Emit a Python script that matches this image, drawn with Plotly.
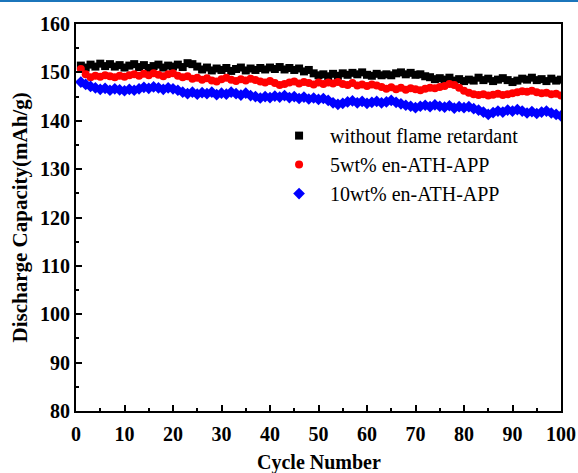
import plotly.graph_objects as go

cycles = list(range(1, 101))

without_fr = [
    151.4, 151.0, 151.6, 151.2, 151.8, 151.3, 151.7, 151.2, 151.5, 151.0,
    151.4, 151.7, 151.1, 151.5, 150.9, 151.3, 151.6, 151.0, 151.4, 151.2,
    151.6, 151.1, 151.9, 151.7, 151.2, 150.6, 151.0, 150.4, 150.8, 150.5,
    150.9, 150.3, 150.7, 151.0, 150.4, 150.8, 150.5, 150.9, 150.6, 151.0,
    150.7, 151.1, 150.6, 150.9, 150.5, 150.8, 150.2, 150.5, 149.8, 149.4,
    149.6, 149.2, 149.7, 149.3, 149.8, 149.5, 149.9, 149.6, 150.0, 149.5,
    149.3, 149.7, 149.4, 149.6, 149.4, 149.8, 150.0, 149.6, 149.9, 149.5,
    149.6, 149.2, 149.0, 148.6, 148.8, 148.5, 148.9, 148.3, 148.6, 148.2,
    148.5, 148.3, 148.9, 148.4, 148.7, 148.2, 148.5, 148.8, 148.4, 148.0,
    148.3, 148.7, 148.5, 148.9, 148.4, 148.6, 148.2, 148.7, 148.3, 148.5,
]

wt5 = [
    150.7, 149.6, 149.0, 149.3, 149.1, 149.4, 149.2, 149.0, 149.3, 149.1,
    149.4, 149.6, 149.3, 149.7, 149.4, 149.8, 149.5, 149.2, 149.6, 149.8,
    149.3, 149.0, 149.2, 148.7, 148.9, 148.5, 148.8, 148.3, 148.1, 148.6,
    148.9, 148.5, 148.2, 148.6, 148.3, 148.7, 148.4, 148.1, 147.9, 148.2,
    147.8, 147.4, 147.6, 147.9, 148.1, 147.7, 148.0, 147.8, 147.5, 147.9,
    147.6, 147.9, 147.7, 148.0, 147.6, 147.4, 147.8, 147.3, 147.5, 147.2,
    147.5, 147.3, 147.0, 146.6, 146.9, 146.5, 146.8, 146.4, 146.7, 146.5,
    146.3, 146.6, 146.8, 146.7, 147.0, 147.2, 147.6, 147.4, 146.8, 146.2,
    145.8, 145.5, 145.3, 145.5, 145.2, 145.4, 145.6, 145.3, 145.5, 145.7,
    145.9, 146.1, 146.0, 146.2, 145.9, 145.7, 145.8, 145.5, 145.6, 145.2,
]

wt10 = [
    148.0, 147.5, 147.1, 146.8, 146.5, 146.7, 146.3, 146.6, 146.4, 146.2,
    146.5, 146.3, 146.6, 146.9, 146.7, 147.0, 146.8, 146.5, 146.8, 146.6,
    146.3, 145.9, 145.6, 145.9, 145.5, 145.8, 145.6, 145.9, 145.4, 145.7,
    145.5, 145.9, 145.6, 145.3, 145.7, 145.2, 145.0, 144.7, 145.0, 144.8,
    145.1, 144.9, 145.2, 144.8, 145.0, 144.6, 144.9, 144.5, 144.7, 144.4,
    144.6, 144.2, 143.7, 143.4, 143.6, 143.9, 144.1, 143.7, 144.0, 143.6,
    143.8, 144.0, 143.7, 143.9, 144.2, 143.8, 143.5, 143.2, 143.0, 142.7,
    143.0, 143.2, 142.9, 143.3, 143.0, 142.8, 143.1, 142.6, 142.9, 142.7,
    142.9, 142.5, 142.2, 141.8, 141.3, 141.7, 142.0, 141.8, 142.2, 142.0,
    142.3, 142.0, 141.6, 141.9, 141.5, 141.8, 142.0, 141.6, 141.3, 141.0,
]

series_names = ["without flame retardant", "5wt% en-ATH-APP", "10wt% en-ATH-APP"]
series_values = [without_fr, wt5, wt10]
series_colors = ["#000000", "#ff0000", "#0000ff"]
series_symbols = ["square", "circle", "diamond"]
series_sizes = [8, 8, 9]

x_ticks = list(range(0, 101, 10))
y_ticks = list(range(80, 161, 10))

x_title = "Cycle Number"
y_title = "Discharge Capacity(mAh/g)"

SERIF = "Liberation Serif, Times New Roman, serif"

fig = go.Figure()
for name, vals, col, sym, sz in zip(series_names, series_values,
                                    series_colors, series_symbols, series_sizes):
    fig.add_trace(go.Scatter(
        x=cycles, y=vals, mode="markers", name=name,
        marker=dict(symbol=sym, color=col, size=sz, line=dict(width=0)),
    ))

axis_common = dict(
    showgrid=False, zeroline=False, automargin=False,
    showline=True, linecolor="black", linewidth=2, mirror=True,
    ticks="inside", ticklen=6, tickwidth=1.5, tickcolor="black",
    tickfont=dict(family=SERIF, size=20, color="black", weight="bold"),
)

fig.update_xaxes(
    range=[0, 100], tickvals=x_ticks, ticklabelstandoff=4,
    minor=dict(ticks="inside", ticklen=3, tickwidth=1.5, tickcolor="black", dtick=5),
    **axis_common,
)
fig.update_yaxes(
    range=[80, 160], tickvals=y_ticks,
    minor=dict(ticks="inside", ticklen=3, tickwidth=1.5, tickcolor="black", dtick=5),
    **axis_common,
)

# axis titles placed as paper-anchored text
fig.add_annotation(text=f"<b>{x_title}</b>", xref="paper", yref="paper",
                   x=0.5, y=-0.134, xanchor="center", yanchor="middle",
                   showarrow=False, font=dict(family=SERIF, size=20, color="black"))
fig.add_annotation(text=f"<b>{y_title}</b>", xref="paper", yref="paper",
                   x=-0.1155, y=0.5, xanchor="center", yanchor="middle",
                   textangle=-90, showarrow=False,
                   font=dict(family=SERIF, size=21, color="black"))

# thin blue rule along the top edge of the figure
fig.add_shape(type="rect", xref="paper", yref="paper",
              x0=-0.2, x1=1.1, y0=1.057, y1=1.065,
              fillcolor="#1b75bb", line=dict(width=0), layer="above")

fig.update_layout(
    width=578, height=473,
    margin=dict(l=76, r=17, t=24, b=62),
    plot_bgcolor="white", paper_bgcolor="white",
    legend=dict(
        x=0.396, y=0.762, xanchor="left", yanchor="top",
        font=dict(family=SERIF, size=20, color="black"),
        bgcolor="rgba(0,0,0,0)", itemwidth=52,
    ),
)

fig.write_html("out.html")
